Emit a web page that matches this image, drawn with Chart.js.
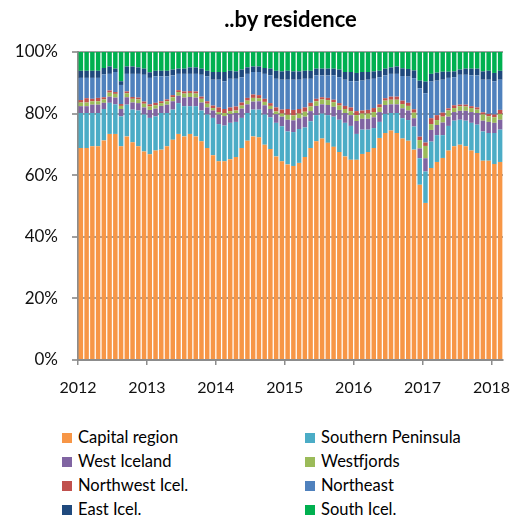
<!DOCTYPE html>
<html>
<head>
<meta charset="utf-8">
<script src="https://cdn.jsdelivr.net/npm/chart.js@4.4.1/dist/chart.umd.min.js"></script>
<style>
  body { margin: 0; background: #fff; }
  #wrap { position: relative; width: 516px; height: 516px; font-family: Lato, sans-serif; }
  #grafico { position: absolute; left: 0; top: 0; }
  #titulo { position: absolute; top: 5px; left: 78px; width: 425px; text-align: center; font-weight: bold; font-size: 22px; color: #000; }
  .item { position: absolute; font-size: 16.5px; line-height: 20px; color: #000; white-space: nowrap; }
  .item span { display: inline-block; width: 10px; height: 10px; margin-right: 6px; vertical-align: 0px; }
</style>
</head>
<body>
<div id="wrap">
  <canvas id="grafico" width="516" height="400"></canvas>
  <div id="titulo">..by residence</div>
  <div id="legenda"></div>
</div>
<script>
// years on the axis, one bar per month Jan 2012 - Feb 2018
const anos = ['2012', '2013', '2014', '2015', '2016', '2017', '2018'];
const meses = [];
anos.forEach(a => {
  for (let m = 1; m <= 12; m++) {
    if (a === '2018' && m > 2) break;
    meses.push(a + '-' + String(m).padStart(2, '0'));
  }
});

const regioes = ['Capital region', 'Southern Peninsula', 'West Iceland', 'Westfjords',
  'Northwest Icel.', 'Northeast', 'East Icel.', 'South Icel.'];
const cores = ['#f79646', '#4bacc6', '#8064a2', '#9bbb59', '#c0504d', '#4f81bd', '#1f497d', '#00b050'];

// share of each region, %
const capital = [68.8, 68.8, 69.4, 69.4, 71.3, 73.4, 73.4, 69.4, 72.6, 70.7, 69.4, 67.7,
  66.8, 68.0, 68.3, 69.4, 71.5, 73.4, 72.6, 73.4, 72.6, 71.0, 68.8, 66.5,
  64.5, 64.5, 65.2, 65.9, 68.8, 71.2, 72.6, 72.3, 69.9, 68.5, 66.1, 64.5,
  63.5, 63.0, 64.0, 65.9, 68.8, 71.0, 71.9, 70.5, 69.2, 67.5, 66.1, 65.0,
  65.0, 66.9, 67.5, 68.8, 72.1, 73.7, 74.5, 73.7, 71.9, 71.2, 68.3, 56.9,
  51.0, 62.3, 64.3, 65.6, 68.0, 69.4, 69.9, 69.4, 68.0, 67.2, 64.7, 64.7,
  63.6, 64.3];
const southernPen = [11.4, 11.4, 10.8, 10.8, 10.2, 10.1, 9.6, 9.7, 10.3, 10.6, 11.6, 12.0,
  11.8, 11.1, 11.9, 10.8, 9.8, 10.0, 9.8, 9.0, 9.8, 10.0, 10.9, 12.1,
  12.1, 11.6, 11.8, 11.4, 9.8, 9.0, 8.7, 9.0, 9.8, 10.3, 10.9, 11.4,
  10.7, 11.0, 11.0, 9.6, 8.7, 8.5, 8.1, 9.0, 9.8, 10.5, 10.9, 11.0,
  8.4, 7.9, 7.3, 6.5, 5.2, 6.2, 5.7, 6.5, 6.6, 6.7, 7.5, 8.6,
  10.2, 8.6, 8.7, 7.4, 8.0, 8.3, 8.1, 8.3, 9.0, 9.2, 9.5, 9.0,
  10.1, 10.5];
const westIce = [2.2, 2.2, 2.7, 2.7, 2.0, 2.0, 2.2, 2.4, 2.4, 2.3, 2.4, 2.3,
  2.6, 2.5, 2.3, 2.7, 2.7, 2.4, 2.8, 3.0, 2.8, 2.6, 2.3, 2.4,
  3.1, 3.1, 2.9, 2.9, 3.0, 2.8, 2.6, 2.7, 3.0, 2.7, 2.8, 3.1,
  3.8, 3.8, 3.5, 3.5, 3.3, 3.0, 3.0, 3.3, 3.2, 3.2, 3.2, 3.5,
  4.2, 3.5, 3.5, 3.5, 3.2, 2.9, 2.8, 2.8, 3.2, 3.1, 2.7, 3.2,
  4.3, 3.8, 3.3, 4.1, 3.0, 2.8, 2.9, 3.2, 3.5, 3.8, 3.5, 3.6,
  3.3, 3.2];
const westfjords = [1.2, 1.2, 1.1, 1.1, 1.1, 1.3, 1.2, 1.0, 1.3, 1.2, 1.2, 1.2,
  1.1, 1.1, 0.9, 1.1, 1.3, 1.2, 1.3, 1.3, 1.3, 1.2, 1.2, 0.8,
  0.8, 1.0, 0.9, 0.8, 1.0, 1.2, 1.2, 1.0, 1.1, 1.0, 0.9, 1.0,
  1.6, 1.6, 1.5, 1.6, 1.5, 1.5, 1.6, 1.6, 1.5, 1.4, 1.3, 1.3,
  1.9, 1.7, 1.7, 1.7, 1.5, 1.4, 1.5, 1.5, 1.4, 1.5, 1.8, 2.7,
  4.0, 1.9, 1.6, 1.9, 2.0, 1.3, 1.5, 1.4, 1.3, 1.1, 2.0, 1.8,
  1.8, 1.9];
const northwest = [0.8, 1.4, 0.8, 1.1, 0.7, 0.7, 0.6, 0.6, 0.6, 0.6, 0.6, 0.7,
  0.7, 0.8, 0.6, 0.6, 0.7, 0.6, 0.7, 0.6, 0.7, 0.7, 0.8, 0.8,
  1.5, 1.3, 1.2, 1.3, 1.0, 0.9, 1.1, 1.0, 1.0, 0.9, 1.3, 1.3,
  1.9, 1.8, 1.5, 1.4, 1.2, 0.8, 0.7, 0.7, 0.8, 0.8, 1.0, 1.2,
  1.3, 1.0, 1.2, 1.3, 1.0, 0.8, 1.0, 1.0, 1.1, 1.0, 1.1, 1.1,
  1.1, 1.9, 1.6, 1.3, 0.7, 0.9, 0.5, 0.6, 0.6, 0.7, 0.7, 0.8,
  0.9, 1.3];
const northeast = [7.2, 6.6, 6.8, 6.5, 7.4, 5.4, 6.5, 6.2, 5.7, 7.5, 7.7, 8.7,
  8.6, 8.6, 8.1, 7.5, 6.4, 5.3, 5.7, 5.6, 5.7, 7.1, 8.1, 8.4,
  9.0, 9.0, 9.3, 9.0, 8.2, 7.8, 7.3, 7.5, 8.1, 9.0, 9.3, 9.7,
  9.5, 9.8, 9.5, 9.3, 7.8, 7.6, 7.1, 7.3, 7.9, 8.4, 8.5, 8.5,
  9.7, 9.7, 9.8, 9.5, 8.8, 7.4, 7.4, 7.4, 8.0, 8.5, 10.1, 15.7,
  16.0, 11.9, 11.2, 10.7, 9.9, 9.1, 9.7, 9.7, 10.0, 10.4, 10.6, 11.1,
  10.8, 9.8];
const eastIce = [2.3, 2.3, 2.3, 2.3, 2.1, 2.4, 1.1, 1.2, 2.4, 2.4, 2.1, 2.0,
  1.8, 1.8, 1.8, 1.8, 1.9, 1.7, 1.7, 2.1, 2.1, 2.0, 1.8, 2.5,
  2.5, 3.0, 2.6, 2.4, 2.5, 2.1, 1.8, 1.8, 1.9, 2.2, 2.6, 2.7,
  2.9, 2.7, 2.7, 2.6, 2.6, 2.2, 2.2, 2.2, 2.2, 2.5, 2.5, 3.0,
  2.7, 2.8, 2.5, 2.4, 2.1, 2.2, 2.1, 2.4, 2.5, 2.5, 2.5, 2.5,
  3.8, 2.5, 2.6, 2.6, 2.0, 1.9, 1.7, 2.0, 2.2, 2.2, 2.7, 2.9,
  2.7, 2.9];
const southIce = [6.1, 6.1, 6.1, 6.1, 5.2, 4.7, 5.4, 9.5, 4.7, 4.7, 5.0, 5.4,
  6.6, 6.1, 6.1, 6.1, 5.7, 5.4, 5.4, 5.0, 5.0, 5.4, 6.1, 6.5,
  6.5, 6.5, 6.1, 6.3, 5.7, 5.0, 4.7, 4.7, 5.2, 5.4, 6.1, 6.3,
  6.1, 6.3, 6.3, 6.1, 6.1, 5.4, 5.4, 5.4, 5.4, 5.7, 6.5, 6.5,
  6.8, 6.5, 6.5, 6.3, 6.1, 5.4, 5.0, 4.7, 5.3, 5.5, 6.0, 9.3,
  9.6, 7.1, 6.7, 6.4, 6.4, 6.3, 5.7, 5.4, 5.4, 5.4, 6.3, 6.1,
  6.8, 6.1];

const series = [capital, southernPen, westIce, westfjords, northwest, northeast, eastIce, southIce];

const datasets = series.map((d, i) => ({
  label: regioes[i],
  data: d,
  backgroundColor: cores[i],
  borderWidth: 0
}));

const ctx = document.getElementById("grafico").getContext("2d");
new Chart(ctx, {
  type: 'bar',
  data: { labels: meses, datasets: datasets },
  options: {
    responsive: false,
    animation: false,
    layout: { padding: { top: 52, left: 8, right: 13, bottom: 0 } },
    plugins: {
      legend: { display: false },
      tooltip: { enabled: false }
    },
    datasets: { bar: { categoryPercentage: 1, barPercentage: 0.78 } },
    scales: {
      x: { stacked: true, display: false, offset: true },
      anos: {
        axis: 'x', type: 'linear', position: 'bottom', min: 0, max: meses.length,
        offset: false,
        afterFit: s => { s.height = 40; s.paddingLeft = 0; s.paddingRight = 0; },
        grid: { drawOnChartArea: false, offset: false, tickLength: 5, color: '#8c8c8c', lineWidth: 1.5 },
        border: { color: '#8c8c8c', width: 2 },
        ticks: {
          stepSize: 12, includeBounds: false, autoSkip: false, maxRotation: 0,
          padding: 13, color: '#111', font: { family: 'Lato', size: 16 },
          callback: v => anos[v / 12] || ''
        }
      },
      y: {
        stacked: true, min: 0, max: 100,
        afterFit: s => { s.width = 70; },
        grid: { color: '#a0a0a0', lineWidth: 2, tickLength: 6 },
        border: { color: '#8c8c8c', width: 2.5 },
        ticks: { stepSize: 20, padding: 14, color: '#111', font: { family: 'Lato', size: 17 }, callback: v => v + '%' }
      }
    }
  }
});

// legend in two columns, like the original
const legenda = document.getElementById("legenda");
regioes.forEach((r, i) => {
  const el = document.createElement('div');
  el.className = 'item';
  el.style.left = (i % 2 === 0 ? 62 : 305) + 'px';
  el.style.top = (427 + Math.floor(i / 2) * 24) + 'px';
  el.innerHTML = `<span style="background:${cores[i]}"></span>${r}`;
  legenda.appendChild(el);
});
</script>
</body>
</html>
